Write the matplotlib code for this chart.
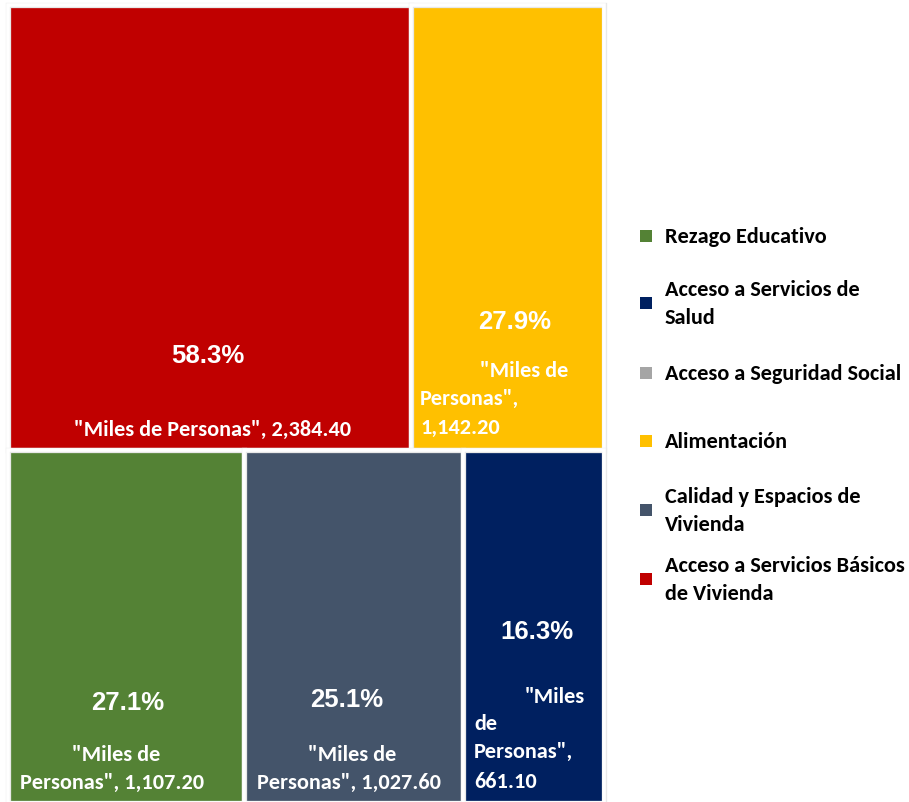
import matplotlib
matplotlib.use("Agg")
import matplotlib.pyplot as plt
from matplotlib.patches import Rectangle
from matplotlib import font_manager as fm

# ---------------- data ----------------
categories = ["Acceso a Servicios Básicos de Vivienda", "Alimentación",
              "Rezago Educativo", "Calidad y Espacios de Vivienda",
              "Acceso a Servicios de Salud"]
values = [2384.40, 1142.20, 1107.20, 1027.60, 661.10]
percents = ["58.3%", "27.9%", "27.1%", "25.1%", "16.3%"]
value_labels = ["2,384.40", "1,142.20", "1,107.20", "1,027.60", "661.10"]
colors = ["#C00000", "#FFC000", "#548235", "#44546A", "#002060"]
rows = [[0, 1], [2, 3, 4]]

legend_labels = ["Rezago Educativo", "Acceso a Servicios de\nSalud",
                 "Acceso a Seguridad Social", "Alimentación",
                 "Calidad y Espacios de\nVivienda",
                 "Acceso a Servicios Básicos\nde Vivienda"]
legend_colors = ["#548235", "#002060", "#A5A5A5", "#FFC000", "#44546A", "#C00000"]

avail = {f.name for f in fm.fontManager.ttflist}
def pick(*names):
    for n in names:
        if n in avail:
            return n
    return "DejaVu Sans"
CAL = pick("Carlito", "Calibri", "Lato", "Open Sans")
ARI = pick("Liberation Sans Narrow", "Arial Narrow", "Liberation Sans", "Arial")

W, H = 909, 803
fig = plt.figure(figsize=(W / 100, H / 100), dpi=100)
ax = fig.add_axes([0, 0, 1, 1])
ax.set_xlim(0, W)
ax.set_ylim(H, 0)
ax.axis("off")

# treemap area
X0, Y0, X1, Y1 = 8, 6, 604, 804
total = sum(values)
rects = {}
y = Y0
for r in rows:
    rs = sum(values[i] for i in r)
    h = (Y1 - Y0) * rs / total
    x = X0
    for i in r:
        w = (X1 - X0) * values[i] / rs
        rects[i] = (x, y, w, h)
        ax.add_patch(Rectangle((x, y), w, h, facecolor=colors[i],
                               edgecolor="#E8E8E8", linewidth=3.8))
        ax.add_patch(Rectangle((x, y), w, h, facecolor="none",
                               edgecolor="white", linewidth=2.6))
        x += w
    y += h

pct_kw = dict(color="white", fontsize=18.5, fontweight="bold", family=ARI,
              ha="center", va="center")
lab_kw = dict(color="white", fontsize=16, fontweight="bold", family=CAL,
              va="center")

# 0 red
ax.text(208, 356, percents[0], **pct_kw)
ax.text(213, 430, '"Miles de Personas", ' + value_labels[0], ha="center", **lab_kw)
# 1 yellow
ax.text(515, 322, percents[1], **pct_kw)
ax.text(480, 371, '"Miles de', ha="left", **lab_kw)
ax.text(420, 399, 'Personas",', ha="left", **lab_kw)
ax.text(420, 428, value_labels[1], ha="left", **lab_kw)
# 2 green
ax.text(128, 703, percents[2], **pct_kw)
ax.text(116, 755, '"Miles de', ha="center", **lab_kw)
ax.text(112, 783, 'Personas", ' + value_labels[2], ha="center", **lab_kw)
# 3 slate
ax.text(347, 700, percents[3], **pct_kw)
ax.text(352, 755, '"Miles de', ha="center", **lab_kw)
ax.text(349, 783, 'Personas", ' + value_labels[3], ha="center", **lab_kw)
# 4 navy
ax.text(537, 632, percents[4], **pct_kw)
ax.text(525, 697, '"Miles', ha="left", **lab_kw)
ax.text(474, 724, 'de', ha="left", **lab_kw)
ax.text(474, 752, 'Personas",', ha="left", **lab_kw)
ax.text(474, 782, value_labels[4], ha="left", **lab_kw)

# legend
leg_y = [237, 304, 374, 442, 511, 580]
for lab, col, ly in zip(legend_labels, legend_colors, leg_y):
    ax.add_patch(Rectangle((640, ly - 6), 12, 12, facecolor=col, edgecolor="none"))
    ax.text(665, ly, lab, ha="left", va="center", fontsize=16,
            fontweight="bold", family=CAL, color="black", linespacing=1.5)

fig.savefig("out.png", dpi=100, facecolor="white")
